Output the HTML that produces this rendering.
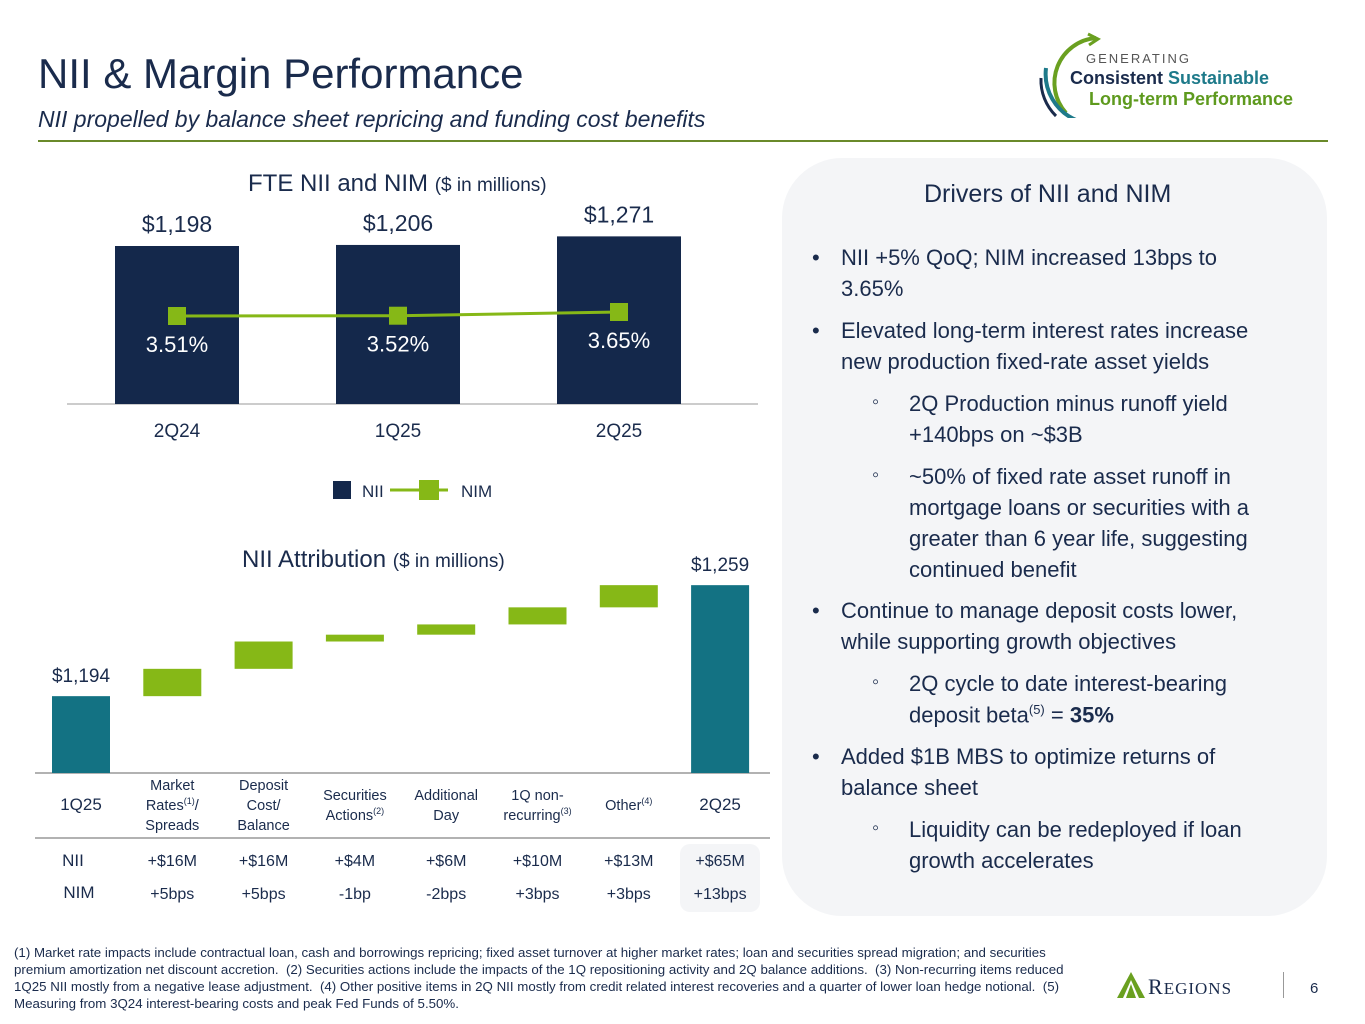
<!DOCTYPE html>
<html><head><meta charset="utf-8">
<style>
*{margin:0;padding:0;box-sizing:border-box}
body{width:1365px;height:1024px;background:#fff;font-family:"Liberation Sans",sans-serif;color:#1a2b4c;position:relative;overflow:hidden}
.a{position:absolute;white-space:nowrap}
.panel{position:absolute;left:782px;top:158px;width:545px;height:758px;background:#f4f5f7;border-radius:60px}
.t{font-size:22px;color:#1a2b4c}
.foot{font-size:13.3px;color:#1a2b4c;line-height:17px}
.sb{font-size:20px}
</style></head><body>
<div class="a" style="left:38px;top:50px;font-size:42px;color:#1a2b4c">NII &amp; Margin Performance</div>
<div class="a" style="left:38px;top:106px;font-size:23px;font-style:italic;color:#1a2b4c">NII propelled by balance sheet repricing and funding cost benefits</div>
<div class="a" style="left:38px;top:140px;width:1290px;height:2px;background:#6a8a2a"></div>

<div class="a" style="left:1036px;top:28px;width:290px;height:90px">
<svg width="290" height="90" style="position:absolute;left:0;top:0">
<path d="M60 10 A45 45 0 0 0 30 85" fill="none" stroke="#6aa020" stroke-width="4"/>
<path d="M52 6 L62 11 L53 17" fill="none" stroke="#6aa020" stroke-width="3"/>
<path d="M10 40 A50 50 0 0 0 40 92" fill="none" stroke="#1e7a8a" stroke-width="4"/>
<path d="M5 50 A50 50 0 0 0 20 88" fill="none" stroke="#1a2b4c" stroke-width="3"/>
</svg>
<div class="a" style="left:50px;top:23px;font-size:13px;letter-spacing:2px;color:#555">GENERATING</div>
<div class="a" style="left:34px;top:40px;font-size:18px;font-weight:bold;color:#1a2b4c">Consistent <span style="color:#1e7a8a">Sustainable</span></div>
<div class="a" style="left:53px;top:61px;font-size:18px;font-weight:bold;color:#5e9a1e">Long-term Performance</div>
</div>

<div class="a" style="left:248px;top:170px;font-size:24px">FTE NII and NIM <span style="font-size:19px">($ in millions)</span></div>
<svg id="topc" class="a" style="left:0;top:195px" width="780" height="320"></svg>

<div class="a" style="left:242px;top:546px;font-size:24px">NII Attribution <span style="font-size:19px">($ in millions)</span></div>
<svg id="wf" class="a" style="left:0;top:540px" width="780" height="380"></svg>

<div class="panel"></div>
<div class="a" style="left:924px;top:180px;font-size:25px">Drivers of NII and NIM</div>
<div class="a t" style="left:0;top:0">
<div class="a" style="left:812px;top:245px">•</div>
<div class="a" style="left:841px;top:245px">NII +5% QoQ; NIM increased 13bps to</div>
<div class="a" style="left:841px;top:276px">3.65%</div>
<div class="a" style="left:812px;top:318px">•</div>
<div class="a" style="left:841px;top:318px">Elevated long-term interest rates increase</div>
<div class="a" style="left:841px;top:349px">new production fixed-rate asset yields</div>
<div class="a sb" style="left:872px;top:391px">◦</div>
<div class="a" style="left:909px;top:391px">2Q Production minus runoff yield</div>
<div class="a" style="left:909px;top:422px">+140bps on ~$3B</div>
<div class="a sb" style="left:872px;top:464px">◦</div>
<div class="a" style="left:909px;top:464px">~50% of fixed rate asset runoff in</div>
<div class="a" style="left:909px;top:495px">mortgage loans or securities with a</div>
<div class="a" style="left:909px;top:526px">greater than 6 year life, suggesting</div>
<div class="a" style="left:909px;top:557px">continued benefit</div>
<div class="a" style="left:812px;top:598px">•</div>
<div class="a" style="left:841px;top:598px">Continue to manage deposit costs lower,</div>
<div class="a" style="left:841px;top:629px">while supporting growth objectives</div>
<div class="a sb" style="left:872px;top:671px">◦</div>
<div class="a" style="left:909px;top:671px">2Q cycle to date interest-bearing</div>
<div class="a" style="left:909px;top:702px">deposit beta<sup style="font-size:13px">(5)</sup> = <b>35%</b></div>
<div class="a" style="left:812px;top:744px">•</div>
<div class="a" style="left:841px;top:744px">Added $1B MBS to optimize returns of</div>
<div class="a" style="left:841px;top:775px">balance sheet</div>
<div class="a sb" style="left:872px;top:817px">◦</div>
<div class="a" style="left:909px;top:817px">Liquidity can be redeployed if loan</div>
<div class="a" style="left:909px;top:848px">growth accelerates</div>
</div>

<div class="a foot" style="left:14px;top:944px;width:1080px;white-space:normal">(1) Market rate impacts include contractual loan, cash and borrowings repricing; fixed asset turnover at higher market rates; loan and securities spread migration; and securities premium amortization net discount accretion.&nbsp; (2) Securities actions include the impacts of the 1Q repositioning activity and 2Q balance additions.&nbsp; (3) Non-recurring items reduced 1Q25 NII mostly from a negative lease adjustment.&nbsp; (4) Other positive items in 2Q NII mostly from credit related interest recoveries and a quarter of lower loan hedge notional.&nbsp; (5) Measuring from 3Q24 interest-bearing costs and peak Fed Funds of 5.50%.</div>

<div class="a" style="left:1113px;top:970px;width:180px;height:30px">
<svg width="40" height="30" style="position:absolute;left:0;top:0"><polygon points="18,2 4,28 32,28" fill="#6aa020"/><polygon points="18,10 10,28 26,28" fill="#fff"/><polygon points="18,14 13,28 23,28" fill="#6aa020"/></svg>
<div class="a" style="left:35px;top:4px;font-family:'Liberation Serif',serif;font-size:22px;letter-spacing:1px;color:#1a2b4c">R<span style="font-size:17px">EGIONS</span></div>
<div class="a" style="left:170px;top:2px;width:1px;height:26px;background:#999"></div>
</div>
<div class="a" style="left:1310px;top:980px;font-size:15px">6</div>

<script>
const topCats=["2Q24","1Q25","2Q25"];
const niiVals=[1198,1206,1271];
const nimVals=[3.51,3.52,3.65];
const wfCats=["1Q25","Market Rates(1)/ Spreads","Deposit Cost/ Balance","Securities Actions(2)","Additional Day","1Q non- recurring(3)","Other (4)","2Q25"];
const wfStart=1194;
const wfDeltas=[16,16,4,6,10,13];
const wfEnd=1259;
const niiRow=["+$16M","+$16M","+$4M","+$6M","+$10M","+$13M","+$65M"];
const nimRow=["+5bps","+5bps","-1bp","-2bps","+3bps","+3bps","+13bps"];
const NS="http://www.w3.org/2000/svg";
function mk(p,tag,at,txt){const e=document.createElementNS(NS,tag);for(const k in at)e.setAttribute(k,at[k]);if(txt!==undefined)e.textContent=txt;p.appendChild(e);return e;}
const topSvg=document.getElementById('topc');
const tBase=404-195, tScale=158/1198;
const tx=i=>177+i*221;
const ty=v=>tBase-v*tScale;
const ny=v=>316-195-(v-3.51)*28.6;
mk(topSvg,'line',{x1:67,x2:758,y1:tBase,y2:tBase,stroke:'#bbb','stroke-width':1.5});
niiVals.forEach((v,i)=>{
 const r=mk(topSvg,'rect',{x:tx(i)-62,y:ty(v),width:124,height:tBase-ty(v),fill:'#14284b'});
 
 
 mk(topSvg,'text',{x:tx(i),y:ty(v)-14,'text-anchor':'middle','font-size':23,fill:'#1a2b4c'},'$'+v.toLocaleString('en-US'));
 mk(topSvg,'text',{x:tx(i),y:tBase+33,'text-anchor':'middle','font-size':19,fill:'#1a2b4c'},topCats[i]);
 mk(topSvg,'text',{x:tx(i),y:ny(nimVals[i])+36,'text-anchor':'middle','font-size':22,fill:'#fff'},nimVals[i].toFixed(2)+'%');
});
mk(topSvg,'polyline',{points:nimVals.map((v,i)=>tx(i)+','+ny(v)).join(' '),fill:'none',stroke:'#86b817','stroke-width':3});
nimVals.forEach((v,i)=>{const m=mk(topSvg,'rect',{x:tx(i)-9,y:ny(v)-9,width:18,height:18,fill:'#86b817'});
 
 });
const lg=mk(topSvg,'g',{});


mk(lg,'rect',{x:333,y:286,width:18,height:18,fill:'#14284b'});
mk(lg,'text',{x:362,y:302,'font-size':17,fill:'#1a2b4c'},'NII');
mk(lg,'line',{x1:390,x2:448,y1:295,y2:295,stroke:'#86b817','stroke-width':3});
mk(lg,'rect',{x:419,y:285,width:20,height:20,fill:'#86b817'});
mk(lg,'text',{x:461,y:302,'font-size':17,fill:'#1a2b4c'},'NIM');
const wf=document.getElementById('wf');
const wBase=773-540, wMin=1149, wScale=111/65;
const wy=v=>wBase-(v-wMin)*wScale;
const wx=i=>81+i*91.3;
mk(wf,'line',{x1:35,x2:770,y1:wBase,y2:wBase,stroke:'#999','stroke-width':1.5});
mk(wf,'line',{x1:35,x2:770,y1:838-540,y2:838-540,stroke:'#999','stroke-width':1.5});
mk(wf,'rect',{x:680,y:844-540,width:80,height:68,rx:10,fill:'#f4f5f7'});
let r=mk(wf,'rect',{x:wx(0)-29,y:wy(wfStart),width:58,height:wBase-wy(wfStart),fill:'#137283'});


mk(wf,'text',{x:wx(0),y:wy(wfStart)-14,'text-anchor':'middle','font-size':19,fill:'#1a2b4c'},'$'+wfStart.toLocaleString('en-US'));
let cum=wfStart;
wfDeltas.forEach((d,i)=>{
 const b=mk(wf,'rect',{x:wx(i+1)-29,y:wy(cum+d),width:58,height:d*wScale,fill:'#86b817'});
 
 
 cum+=d;
});
r=mk(wf,'rect',{x:wx(7)-29,y:wy(wfEnd),width:58,height:wBase-wy(wfEnd),fill:'#137283'});


mk(wf,'text',{x:wx(7),y:wy(wfEnd)-14,'text-anchor':'middle','font-size':19,fill:'#1a2b4c'},'$'+wfEnd.toLocaleString('en-US'));
const labelLines=[["1Q25"],["Market","Rates(1)/","Spreads"],["Deposit","Cost/","Balance"],["Securities","Actions(2)"],["Additional","Day"],["1Q non-","recurring(3)"],["Other (4)"],["2Q25"]];
wfCats.forEach((c,i)=>{
 const big=(i===0||i===7);
 const lines=labelLines[i];
 const fs=big?17:14.5, lh=20;
 const y0=(805-540)-(lines.length-1)*lh/2+5;
 lines.forEach((l,k)=>{
  const m=l.match(/^(.*?)\s?\((\d)\)(\/?)$/);
  const t=mk(wf,'text',{x:wx(i),y:y0+k*lh,'text-anchor':'middle','font-size':fs,fill:'#1a2b4c'});
  if(m){const s1=document.createElementNS(NS,'tspan');s1.textContent=m[1];t.appendChild(s1);
   const s2=document.createElementNS(NS,'tspan');s2.setAttribute('font-size','9');s2.setAttribute('dy','-6');s2.textContent='('+m[2]+')';t.appendChild(s2);
   if(m[3]){const s3=document.createElementNS(NS,'tspan');s3.setAttribute('dy','6');s3.textContent=m[3];t.appendChild(s3);}}
  else t.textContent=l;
 });
});
mk(wf,'text',{x:wx(0)-8,y:866-540,'text-anchor':'middle','font-size':17,fill:'#1a2b4c'},'NII');
mk(wf,'text',{x:wx(0)-2,y:898-540,'text-anchor':'middle','font-size':17,fill:'#1a2b4c'},'NIM');
niiRow.forEach((v,i)=>mk(wf,'text',{x:wx(i+1),y:866-540,'text-anchor':'middle','font-size':16,fill:'#1a2b4c'},v));
nimRow.forEach((v,i)=>mk(wf,'text',{x:wx(i+1),y:899-540,'text-anchor':'middle','font-size':16,fill:'#1a2b4c'},v));
</script>
</body></html>
